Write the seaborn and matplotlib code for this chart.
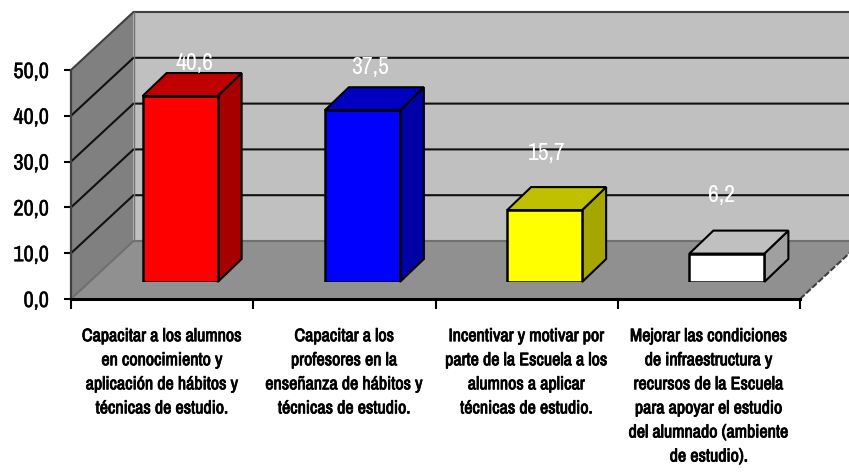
import matplotlib
matplotlib.use("Agg")
import matplotlib.pyplot as plt
from matplotlib.patches import Polygon
import matplotlib.patheffects as pe
import seaborn as sns

categories = [
    "Capacitar a los alumnos\nen conocimiento y\naplicación de hábitos y\ntécnicas de estudio.",
    "Capacitar a los\nprofesores en la\nenseñanza de hábitos y\ntécnicas de estudio.",
    "Incentivar y motivar por\nparte de la Escuela a los\nalumnos a aplicar\ntécnicas de estudio.",
    "Mejorar las condiciones\nde infraestructura y\nrecursos de la Escuela\npara apoyar el estudio\ndel alumnado (ambiente\nde estudio).",
]
values = [40.6, 37.5, 15.7, 6.2]
value_labels = ["40,6", "37,5", "15,7", "6,2"]
y_ticks = [0, 10, 20, 30, 40, 50]
y_tick_labels = ["0,0", "10,0", "20,0", "30,0", "40,0", "50,0"]
front_colors = ["#FF0000", "#0000FF", "#FFFF00", "#FFFFFF"]
side_colors = ["#A60000", "#0000A6", "#A6A600", "#A0A0A0"]
top_colors = ["#C00000", "#0000C0", "#C0C000", "#C0C0C0"]

W, H = 849, 472
sns.set_theme(style="white")
plt.rcParams["font.family"] = ["Archivo Narrow", "Liberation Sans", "DejaVu Sans"]

fig = plt.figure(figsize=(W / 100, H / 100), dpi=100, facecolor="white")

# pixel geometry of the pseudo-3D box
L, R, Y0, Y50 = 71, 800, 299, 70
ppx = (R - L) / 4          # px per category
ppy = (Y0 - Y50) / 50      # px per value unit
wall_dx, wall_dy = 62.5 / ppx, 58 / ppy
bar_dx, bar_dy = 24 / ppx, 23 / ppy
shift_x, shift_y = 18, 17

def rect(l, r, top, bottom):
    return [l / W, 1 - bottom / H, (r - l) / W, (bottom - top) / H]

frame = fig.add_axes(rect(L, R, Y50, Y0), zorder=1)
frame.set_xlim(-0.5, 3.5)
frame.set_ylim(0, 50)
frame.patch.set_visible(False)
x0, x1 = -0.5, 3.5

back = Polygon([(x0 + wall_dx, wall_dy), (x1 + wall_dx, wall_dy),
                (x1 + wall_dx, 50 + wall_dy), (x0 + wall_dx, 50 + wall_dy)],
               fc="#C0C0C0", ec="none", clip_on=False, zorder=1)
side = Polygon([(x0, 0), (x0 + wall_dx, wall_dy), (x0 + wall_dx, 50 + wall_dy), (x0, 50)],
               fc="#808080", ec="none", clip_on=False, zorder=1)
floor = Polygon([(x0, 0), (x1, 0), (x1 + wall_dx, wall_dy), (x0 + wall_dx, wall_dy)],
                fc="#909090", ec="none", clip_on=False, zorder=1)
for p in (back, side, floor):
    frame.add_patch(p)

# wall edges and grid
for v in y_ticks[1:5]:
    frame.plot([x0, x0 + wall_dx, x1 + wall_dx], [v, v + wall_dy, v + wall_dy],
               color="#101010", lw=1.5, clip_on=False, zorder=2)
frame.plot([x0, x0 + wall_dx, x1 + wall_dx], [50, 50 + wall_dy, 50 + wall_dy],
           color="#404040", lw=1.5, clip_on=False, zorder=2)
frame.plot([x0, x0 + wall_dx, x1 + wall_dx], [0, wall_dy, wall_dy],
           color="#707070", lw=1.5, clip_on=False, zorder=2)
frame.plot([x0 + wall_dx] * 2, [wall_dy, 50 + wall_dy], color="#707070", lw=1, clip_on=False, zorder=2)
frame.plot([x1, x1 + wall_dx], [0, wall_dy], color="#404040", lw=1.5, ls=(0, (3, 1)), clip_on=False, zorder=2)

for s in ("top", "right"):
    frame.spines[s].set_visible(False)
frame.spines["left"].set_color("#404040")
frame.spines["left"].set_linewidth(1.6)
frame.spines["bottom"].set_color("black")
frame.spines["bottom"].set_linewidth(2.2)

frame.set_yticks(y_ticks)
frame.set_yticklabels(y_tick_labels, fontsize=16, color="black")
frame.tick_params(axis="y", left=True, length=5, width=1.5, color="black", pad=11)
frame.set_xticks(range(4))
frame.set_xticklabels(categories, fontsize=13, color="black", linespacing=1.62, ha="center", va="top")
frame.set_xticks([-0.5, 0.5, 1.5, 2.5, 3.5], minor=True)
frame.tick_params(axis="x", which="major", bottom=False, length=0, pad=21)
frame.tick_params(axis="x", which="minor", bottom=True, length=7, width=1.5, color="black")
for t in frame.get_xticklabels():
    t.set_path_effects([pe.withStroke(linewidth=0.6, foreground="black")])
for t in frame.get_yticklabels():
    t.set_path_effects([pe.withStroke(linewidth=0.3, foreground="black")])

# bars live on a plane shifted into the box
bars = fig.add_axes(rect(L + shift_x, R + shift_x, Y50 - shift_y, Y0 - shift_y), zorder=2)
sns.barplot(x=list(range(4)), y=values, hue=list(range(4)), palette=front_colors,
            legend=False, dodge=False, width=75 / ppx, ax=bars, saturation=1,
            edgecolor="black", linewidth=1.8, zorder=3)
bars.set_xlim(-0.5, 3.5)
bars.set_ylim(0, 50)
bars.axis("off")

label_dx = [14, 8, 2.5, -5.5]       # px offset of labels from bar centre
label_dy = [33, 43, 57, 58]         # px above front top
for i, patch in enumerate(bars.patches[:4]):
    xl, w, h = patch.get_x(), patch.get_width(), patch.get_height()
    xr = xl + w
    bars.add_patch(Polygon([(xr, 0), (xr + bar_dx, bar_dy), (xr + bar_dx, h + bar_dy), (xr, h)],
                           fc=side_colors[i], ec="black", lw=1.5, clip_on=False, zorder=2))
    bars.add_patch(Polygon([(xl, h), (xr, h), (xr + bar_dx, h + bar_dy), (xl + bar_dx, h + bar_dy)],
                           fc=top_colors[i], ec="black", lw=1.5, clip_on=False, zorder=2))
    bars.text(xl + w / 2 + label_dx[i] / ppx, h + label_dy[i] / ppy, value_labels[i],
              color="white", fontsize=17, ha="center", va="center", clip_on=False, zorder=5)

fig.savefig("out.png", dpi=100)
